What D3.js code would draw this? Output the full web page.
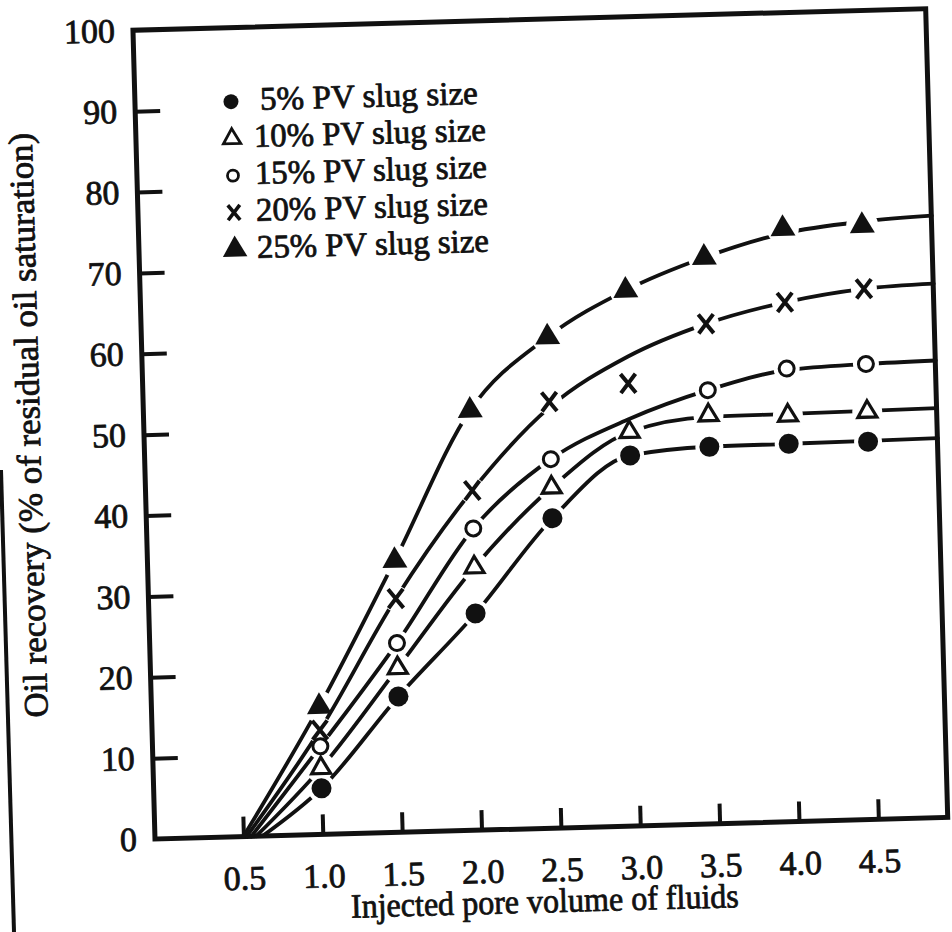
<!DOCTYPE html>
<html>
<head>
<meta charset="utf-8">
<script src="https://cdn.jsdelivr.net/npm/d3@7"></script>
<style>
  html, body { margin: 0; padding: 0; background: #fff; }
  svg { display: block; }
  text { font-family: "Liberation Serif", "Times New Roman", serif; fill: #111;
         stroke: #111; stroke-width: 0.8px; stroke-linejoin: round; }
</style>
</head>
<body>
<svg id="chart" width="952" height="932"></svg>
<script>
// Injected pore volumes at which recovery was measured
const injectedPV = [1.0, 1.5, 2.0, 2.5, 3.0, 3.5, 4.0, 4.5];

// Oil recovery (% of residual oil saturation) per slug size
const recovery5  = [5.7, 16.8, 26.8, 38.3, 45.8, 46.6, 46.7, 46.7];
const recovery10 = [8.2, 20.3, 32.5, 42.1, 48.7, 50.5, 50.2, 50.4];
const recovery15 = [10.9, 23.4, 37.3, 45.6, null, 53.6, 56.0, 56.3];
const recovery20 = [12.9, 28.9, 42.0, 52.7, 54.7, 61.8, 64.2, 65.6];
const recovery25 = [15.8, 33.6, 51.9, 60.7, 66.2, 70.0, 73.3, 73.4];

// Smoothed trend curves: x where each leaves the axis, then values at fitX
const fitStart = [0.62, 0.58, 0.55, 0.52, 0.50];
const fitX   = [1.0, 1.5, 2.0, 2.5, 3.0, 3.5, 4.0, 4.5, 4.94];
const fit5   = [5.7, 16.8, 26.8, 38.3, 45.8, 46.6, 46.7, 46.8, 46.9];
const fit10  = [8.2, 20.3, 32.5, 42.1, 48.7, 50.3, 50.4, 50.5, 50.6];
const fit15  = [10.9, 23.4, 37.3, 45.6, 50.3, 53.6, 55.8, 56.3, 56.5];
const fit20  = [12.9, 28.9, 42.0, 52.0, 58.0, 61.8, 64.2, 65.6, 66.0];
const fit25  = [15.8, 33.6, 51.9, 60.7, 66.2, 70.0, 72.7, 73.9, 74.4];

const seriesLabels = ["5% PV slug size", "10% PV slug size", "15% PV slug size",
                      "20% PV slug size", "25% PV slug size"];
const markerKinds = ["dot", "triangleOpen", "circleOpen", "cross", "triangle"];

const xTicks = [0.5, 1.0, 1.5, 2.0, 2.5, 3.0, 3.5, 4.0, 4.5];
const yTicks = [0, 10, 20, 30, 40, 50, 60, 70, 80, 90, 100];

const recoveries = [recovery5, recovery10, recovery15, recovery20, recovery25];
const fits = [fit5, fit10, fit15, fit20, fit25];

// ---- layout ----
const W = 793, H = 809;
const originX = 155, originY = 839, tilt = -1.56;
const ink = "#111";

const svg = d3.select("#chart");
svg.append("rect").attr("width", 952).attr("height", 932).attr("fill", "#fff");

// page edge along the left border
svg.append("line")
  .attr("x1", 1).attr("y1", 470).attr("x2", 14).attr("y2", 932)
  .attr("stroke", ink).attr("stroke-width", 4);

const g = svg.append("g")
  .attr("transform", `translate(${originX},${originY}) rotate(${tilt}) translate(0,${-H})`);

const x = d3.scaleLinear().domain([-0.057, 4.937]).range([0, W]);
const y = d3.scaleLinear().domain([0, 100]).range([H, 0]);

// ---- axes ----
const xAxis = d3.axisBottom(x)
  .tickValues(xTicks)
  .tickFormat(d3.format(".1f"))
  .tickSizeInner(-20).tickSizeOuter(0).tickPadding(29);

const gx = g.append("g").attr("transform", `translate(0,${H})`).call(xAxis);
gx.attr("font-size", null).attr("font-family", null);
gx.select(".domain").remove();
gx.selectAll(".tick line").attr("stroke", ink).attr("stroke-width", 4);
gx.selectAll(".tick text").attr("font-size", 34).attr("fill", ink);

const yAxis = d3.axisLeft(y)
  .tickValues(yTicks)
  .tickSizeInner(-25).tickSizeOuter(0).tickPadding(18);

const gy = g.append("g").call(yAxis);
gy.attr("font-size", null).attr("font-family", null);
gy.select(".domain").remove();
gy.selectAll(".tick line")
  .attr("stroke", ink).attr("stroke-width", 4)
  .attr("display", d => (d === 0 || d === 100) ? "none" : null);
gy.selectAll(".tick text").attr("font-size", 34).attr("fill", ink);

// ---- frame ----
g.append("rect")
  .attr("x", 0).attr("y", 0).attr("width", W).attr("height", H)
  .attr("fill", "none").attr("stroke", ink).attr("stroke-width", 5);

// ---- markers ----
const plotSize = {
  dot: { r: 10, gap: 14 },
  triangleOpen: { area: 156, sw: 3.2, gap: 15 },
  circleOpen: { r: 7.5, sw: 3, gap: 13 },
  cross: { hw: 7.5, hh: 9.5, sw: 4, gap: 13 },
  triangle: { area: 270, gap: 16 }
};
const legendSize = {
  dot: { r: 7.5 },
  triangleOpen: { area: 130, sw: 2.8 },
  circleOpen: { r: 5.5, sw: 2.8 },
  cross: { hw: 6, hh: 7.5, sw: 3.6 },
  triangle: { area: 260 }
};

function drawMarker(sel, kind, s) {
  if (kind === "dot") {
    sel.append("circle").attr("r", s.r).attr("fill", ink);
  } else if (kind === "circleOpen") {
    sel.append("circle").attr("r", s.r).attr("fill", "#fff")
      .attr("stroke", ink).attr("stroke-width", s.sw);
  } else if (kind === "triangleOpen") {
    sel.append("path").attr("d", d3.symbol(d3.symbolTriangle, s.area)())
      .attr("fill", "#fff").attr("stroke", ink).attr("stroke-width", s.sw)
      .attr("stroke-linejoin", "miter");
  } else if (kind === "triangle") {
    sel.append("path").attr("d", d3.symbol(d3.symbolTriangle, s.area)())
      .attr("fill", ink);
  } else if (kind === "cross") {
    sel.append("path")
      .attr("d", `M${-s.hw},${-s.hh}L${s.hw},${s.hh}M${s.hw},${-s.hh}L${-s.hw},${s.hh}`)
      .attr("stroke", ink).attr("stroke-width", s.sw).attr("fill", "none");
  }
}

// ---- curves, broken around their own markers ----
const defs = svg.append("defs");
const line = d3.line()
  .x(d => x(d[0])).y(d => y(d[1]))
  .curve(d3.curveMonotoneX);

recoveries.forEach((vals, i) => {
  const kind = markerKinds[i];
  const pts = injectedPV.map((pv, j) => [pv, vals[j]]).filter(d => d[1] != null);

  const mask = defs.append("mask")
    .attr("id", `gap${i}`)
    .attr("maskUnits", "userSpaceOnUse")
    .attr("x", -200).attr("y", -200).attr("width", W + 400).attr("height", H + 400);
  mask.append("rect")
    .attr("x", -200).attr("y", -200).attr("width", W + 400).attr("height", H + 400)
    .attr("fill", "#fff");
  mask.selectAll("circle").data(pts).join("circle")
    .attr("cx", d => x(d[0])).attr("cy", d => y(d[1]))
    .attr("r", plotSize[kind].gap).attr("fill", "#000");

  const knots = [[fitStart[i], 0]].concat(fitX.map((fx, j) => [fx, fits[i][j]]));
  g.append("path")
    .attr("d", line(knots))
    .attr("fill", "none").attr("stroke", ink).attr("stroke-width", 3.8)
    .attr("stroke-linecap", "round")
    .attr("mask", `url(#gap${i})`);

  const mg = g.append("g");
  pts.forEach(d => {
    const m = mg.append("g").attr("transform", `translate(${x(d[0])},${y(d[1])})`);
    drawMarker(m, kind, plotSize[kind]);
  });
});

// ---- legend ----
const legend = g.append("g");
const rowY = [74, 111, 148, 185, 222];
seriesLabels.forEach((label, i) => {
  const row = legend.append("g").attr("transform", `translate(0,${rowY[i]})`);
  drawMarker(row.append("g").attr("transform", "translate(96,0)"), markerKinds[i], legendSize[markerKinds[i]]);
  row.append("text")
    .attr("x", i === 0 ? 125 : 118).attr("y", 9)
    .attr("font-size", 33)
    .attr("textLength", i === 0 ? 218 : 232)
    .attr("lengthAdjust", "spacingAndGlyphs")
    .text(label);
});

// ---- axis titles ----
g.append("text")
  .attr("x", 388).attr("y", 893)
  .attr("text-anchor", "middle")
  .attr("font-size", 34)
  .attr("textLength", 388).attr("lengthAdjust", "spacingAndGlyphs")
  .text("Injected pore volume of fluids");

g.append("text")
  .attr("transform", "translate(-104,392) rotate(-90)")
  .attr("text-anchor", "middle")
  .attr("font-size", 34)
  .attr("textLength", 585).attr("lengthAdjust", "spacingAndGlyphs")
  .text("Oil recovery (% of residual oil saturation)");
</script>
</body>
</html>
